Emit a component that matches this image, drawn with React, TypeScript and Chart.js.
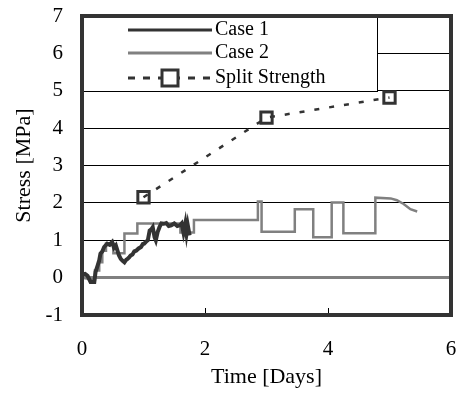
import React, { useEffect, useRef } from "react";
import { Chart, registerables } from "chart.js";

Chart.register(...registerables);

const case1X = [0, 0.05, 0.09, 0.12, 0.14, 0.2, 0.22, 0.25, 0.28, 0.3, 0.33, 0.36, 0.41, 0.45, 0.49, 0.52, 0.55, 0.58, 0.6, 0.63, 0.66, 0.69, 0.72, 0.74, 0.77, 0.79, 0.82, 0.85, 0.88, 0.92, 0.96, 0.99, 1.01, 1.04, 1.07, 1.1, 1.13, 1.15, 1.18, 1.2, 1.23, 1.26, 1.29, 1.33, 1.37, 1.41, 1.45, 1.5, 1.55, 1.59, 1.62, 1.65, 1.68, 1.7, 1.72, 1.75];
const case1Y = [0.08, 0.1, 0.05, -0.05, -0.12, -0.12, 0.15, 0.3, 0.46, 0.64, 0.7, 0.82, 0.91, 0.88, 0.95, 0.8, 0.86, 0.7, 0.6, 0.5, 0.45, 0.41, 0.48, 0.5, 0.55, 0.59, 0.62, 0.7, 0.72, 0.78, 0.82, 0.9, 0.91, 0.96, 1.0, 1.26, 1.3, 1.35, 1.08, 1.0, 1.22, 1.35, 1.45, 1.44, 1.46, 1.38, 1.4, 1.45, 1.38, 1.4, 1.45, 1.2, 1.45, 1.18, 1.4, 1.13];

const case2X = [0, 0.17, 0.21, 0.21, 0.28, 0.28, 0.33, 0.33, 0.39, 0.39, 0.51, 0.51, 0.69, 0.69, 0.9, 0.9, 1.6, 1.6, 1.82, 1.82, 2.86, 2.86, 2.92, 2.92, 3.46, 3.46, 3.76, 3.76, 4.06, 4.06, 4.25, 4.25, 4.77, 4.77, 5.02, 5.12, 5.23, 5.34, 5.45];
const case2Y = [0, -0.05, -0.05, 0.19, 0.19, 0.41, 0.41, 0.72, 0.72, 0.91, 0.91, 0.65, 0.65, 1.18, 1.18, 1.45, 1.45, 1.21, 1.21, 1.54, 1.54, 2.04, 2.04, 1.23, 1.23, 1.83, 1.83, 1.08, 1.08, 2.01, 2.01, 1.19, 1.19, 2.14, 2.12, 2.07, 1.97, 1.83, 1.77];

const splitX = [1, 3, 5];
const splitY = [2.15, 4.28, 4.82];

const seriesNames = ["Case 1", "Case 2", "Split Strength"];
const yTicks = [-1, 0, 1, 2, 3, 4, 5, 6, 7];
const xTicks = [0, 2, 4, 6];

const DARK = "#333333";
const GRAY = "#808080";
const FONT = "'Liberation Serif', 'Times New Roman', serif";

const toPts = (xs: number[], ys: number[]) => xs.map((x, i) => ({ x, y: ys[i] }));

const decorPlugin = {
  id: "decor",
  afterDatasetsDraw(chart: any) {
    const { ctx, chartArea: a, scales } = chart;
    const xs = scales.x;
    ctx.save();
    ctx.strokeStyle = "#000";
    ctx.lineWidth = 1;
    for (const v of [2, 4]) {
      const px = Math.round(xs.getPixelForValue(v)) + 0.5;
      ctx.beginPath();
      ctx.moveTo(px, a.bottom);
      ctx.lineTo(px, a.bottom - 7);
      ctx.stroke();
    }
    const lx = a.left, ly = a.top, lw = 295, lh = 75;
    ctx.fillStyle = "#fff";
    ctx.fillRect(lx, ly, lw, lh);
    ctx.strokeStyle = "#000";
    ctx.lineWidth = 1;
    ctx.strokeRect(lx + 0.5, ly + 0.5, lw, lh);
    const ds = chart.data.datasets;
    const rows = [14, 37, 62];
    ctx.font = `20px ${FONT}`;
    ctx.textBaseline = "middle";
    ctx.textAlign = "left";
    for (let i = 0; i < 3; i++) {
      const y = ly + rows[i];
      const x0 = lx + 46, x1 = lx + 130;
      ctx.save();
      ctx.strokeStyle = ds[i].borderColor;
      ctx.lineWidth = 3;
      ctx.setLineDash(i === 2 ? [7, 8] : []);
      ctx.beginPath();
      ctx.moveTo(x0, y);
      ctx.lineTo(x1, y);
      ctx.stroke();
      ctx.restore();
      if (i === 2) {
        const cx = (x0 + x1) / 2;
        ctx.fillStyle = "#fff";
        ctx.fillRect(cx - 8, y - 8, 16, 16);
        ctx.strokeStyle = DARK;
        ctx.lineWidth = 3;
        ctx.strokeRect(cx - 8, y - 8, 16, 16);
      }
      ctx.fillStyle = "#000";
      ctx.fillText(seriesNames[i], x1 + 3, y);
    }
    ctx.strokeStyle = DARK;
    ctx.lineWidth = 4;
    ctx.strokeRect(a.left, a.top, a.right - a.left, a.bottom - a.top);
    ctx.restore();
  },
};

export default function App() {
  const ref = useRef<HTMLCanvasElement>(null);
  useEffect(() => {
    const chart = new Chart(ref.current!, {
      type: "scatter",
      data: {
        datasets: [
          {
            label: seriesNames[0],
            data: toPts(case1X, case1Y),
            showLine: true,
            borderColor: DARK,
            backgroundColor: DARK,
            borderWidth: 4,
            pointRadius: 0,
            tension: 0,
          },
          {
            label: seriesNames[1],
            data: toPts(case2X, case2Y),
            showLine: true,
            borderColor: GRAY,
            backgroundColor: GRAY,
            borderWidth: 2.5,
            pointRadius: 0,
            tension: 0,
          },
          {
            label: seriesNames[2],
            data: toPts(splitX, splitY),
            showLine: true,
            borderColor: DARK,
            backgroundColor: "#fff",
            borderWidth: 2.5,
            borderDash: [5, 10],
            pointStyle: "rect",
            pointRadius: 8,
            pointBorderWidth: 3,
            pointBorderColor: DARK,
            pointBackgroundColor: "rgba(255,255,255,0)",
          },
        ],
      },
      options: {
        animation: false,
        responsive: false,
        maintainAspectRatio: false,
        layout: { autoPadding: false, padding: { left: 0, right: 8, top: 16, bottom: 0 } },
        plugins: { legend: { display: false }, tooltip: { enabled: false } },
        scales: {
          x: {
            type: "linear",
            min: 0,
            max: 6,
            afterBuildTicks: (s: any) => {
              s.ticks = xTicks.map((v) => ({ value: v }));
            },
            afterFit: (s: any) => {
              s.height = 79;
              s.paddingLeft = 0;
              s.paddingRight = 0;
            },
            grid: { display: false, drawTicks: false },
            border: { display: false },
            ticks: { color: "#000", font: { family: FONT, size: 21 }, padding: 22, maxRotation: 0 },
            title: {
              display: true,
              text: "Time [Days]",
              color: "#000",
              font: { family: FONT, size: 22 },
              padding: { top: 0, bottom: 4 },
            },
          },
          y: {
            type: "linear",
            min: -1,
            max: 7,
            afterBuildTicks: (s: any) => {
              s.ticks = yTicks.map((v) => ({ value: v }));
            },
            afterFit: (s: any) => {
              s.width = 82;
              s.paddingTop = 0;
              s.paddingBottom = 0;
            },
            grid: {
              drawTicks: false,
              color: (c: any) => (c.tick && c.tick.value === 0 ? GRAY : "#000"),
              lineWidth: (c: any) => (c.tick && c.tick.value === 0 ? 3 : 1),
            },
            border: { display: false },
            ticks: { color: "#000", font: { family: FONT, size: 21 }, padding: 19 },
            title: {
              display: true,
              text: "Stress [MPa]",
              color: "#000",
              font: { family: FONT, size: 22 },
              padding: { top: 11, bottom: 0 },
            },
          },
        },
      },
      plugins: [decorPlugin],
    } as any);
    return () => chart.destroy();
  }, []);
  return (
    <div style={{ position: "fixed", left: 0, top: 0, width: 459, height: 394, background: "#fff" }}>
      <canvas ref={ref} width={459} height={394} style={{ width: 459, height: 394 }} />
    </div>
  );
}
